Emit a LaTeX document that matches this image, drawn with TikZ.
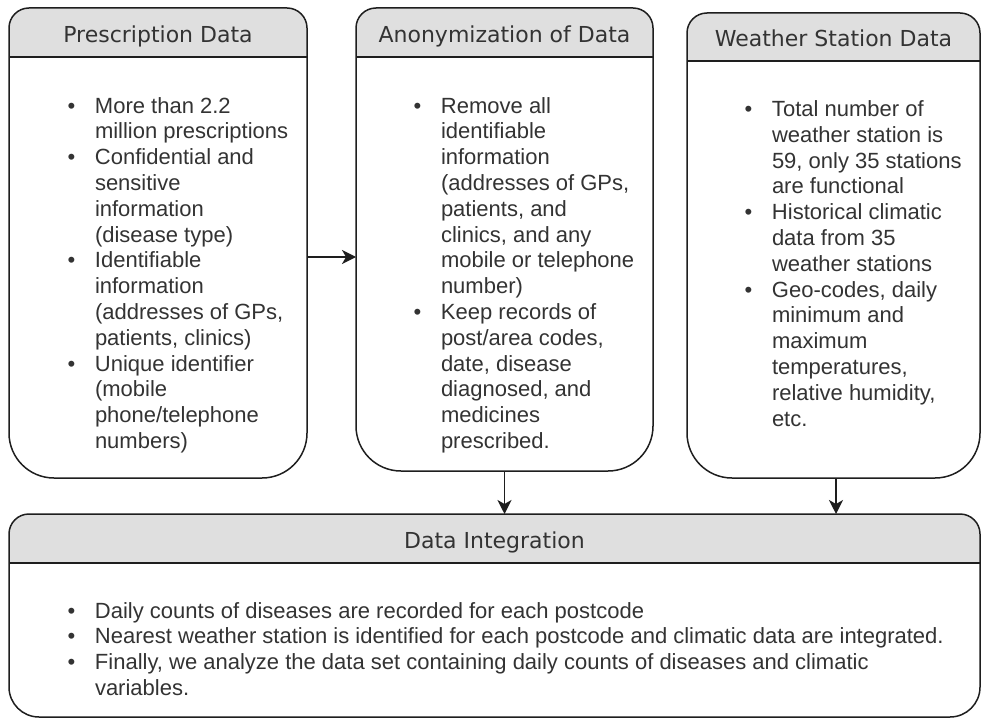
\documentclass[tikz,border=0pt]{standalone}
\usepackage{fontspec}
\setmainfont{Liberation Sans}
\newfontfamily\hdrfont{DejaVu Sans}
\usetikzlibrary{arrows.meta}

\definecolor{ink}{HTML}{1E1E1E}
\definecolor{txt}{HTML}{333333}
\definecolor{hdr}{HTML}{DFDFDF}

% Outline of a swimlane: x1, y1, x2, y2, top corner radius, bottom corner radius
\newcommand\lanepath[6]{(#1,{#2+#5}) .. controls (#1,{#2+0.4477*#5}) and ({#1+0.4477*#5},#2) .. ({#1+#5},#2)
  -- ({#3-#5},#2) .. controls ({#3-0.4477*#5},#2) and (#3,{#2+0.4477*#5}) .. (#3,{#2+#5})
  -- (#3,{#4-#6}) .. controls (#3,{#4-0.4477*#6}) and ({#3-0.4477*#6},#4) .. ({#3-#6},#4)
  -- ({#1+#6},#4) .. controls ({#1+0.4477*#6},#4) and (#1,{#4-0.4477*#6}) .. (#1,{#4-#6}) -- cycle}

% Swimlane with grey title band: name, x1, y1, x2, y2, top radius, bottom radius, band bottom, title
\newcommand\lane[9]{%
  \fill[white] \lanepath{#2}{#3}{#4}{#5}{#6}{#7};
  \begin{scope}
    \clip (#2,#3) rectangle (#4,#8);
    \fill[hdr] \lanepath{#2}{#3}{#4}{#5}{#6}{#7};
  \end{scope}
  \draw[laneline] \lanepath{#2}{#3}{#4}{#5}{#6}{#7};
  \draw[laneline] (#2,#8) -- (#4,#8);
  \node[inner sep=0pt, outer sep=0pt, minimum width={(#4-#2)*1pt}, minimum height={(#5-#3)*1pt}]
    (#1) at ({(#2+#4)/2},{(#3+#5)/2}) {};
  \node[lanetitle] (#1-title) at ({(#2+#4)/2},{#8-14.5}) {#9};
}

\newcommand\itm[1]{\strut\makebox[27.5pt][l]{\textbullet}#1}
\newcommand\cnt[1]{\strut\hspace*{27.5pt}#1}

\tikzset{
  laneline/.style={draw=ink, line width=1.5pt},
  lanetitle/.style={anchor=base, inner sep=0pt, text=txt, font=\hdrfont\fontsize{22}{26}\selectfont},
  bodytext/.style={anchor=north west, inner sep=0pt, outer sep=0pt, align=left, text=txt,
    font=\fontsize{22}{25.8}\selectfont},
  arr/.style={draw=ink, line width=1.5pt, -{Stealth[length=14pt, width=14pt, inset=4pt]}}
}

\begin{document}
\begin{tikzpicture}[x=1pt, y=-1pt]
  \fill[white] (0,0) rectangle (981,719);
  \useasboundingbox (0,0) rectangle (981,719);

  \lane{pd}{9}{8}{307}{478}{20}{45}{57}{Prescription Data}
  \lane{an}{356}{8}{653}{471}{20}{45}{57}{Anonymization of Data}
  \lane{ws}{687}{13}{980}{478}{20}{45}{61}{Weather Station Data}
  \lane{di}{9}{514}{980}{717}{20}{30}{563}{Data Integration}

  \node[bodytext] (pd-body) at (67.5,{113-18.06}) {%
    \itm{More than 2.2}\\ \cnt{million prescriptions}\\
    \itm{Confidential and}\\ \cnt{sensitive}\\ \cnt{information}\\ \cnt{(disease type)}\\
    \itm{Identifiable}\\ \cnt{information}\\ \cnt{(addresses of GPs,}\\ \cnt{patients, clinics)}\\
    \itm{Unique identifier}\\ \cnt{(mobile}\\ \cnt{phone/telephone}\\ \cnt{numbers)}};

  \node[bodytext] (an-body) at (413.5,{113-18.06}) {%
    \itm{Remove all}\\ \cnt{identifiable}\\ \cnt{information}\\ \cnt{(addresses of GPs,}\\
    \cnt{patients, and}\\ \cnt{clinics, and any}\\ \cnt{mobile or telephone}\\ \cnt{number)}\\
    \itm{Keep records of}\\ \cnt{post/area codes,}\\ \cnt{date, disease}\\ \cnt{diagnosed, and}\\
    \cnt{medicines}\\ \cnt{prescribed.}};

  \node[bodytext] (ws-body) at (744.5,{116.5-18.06}) {%
    \itm{Total number of}\\ \cnt{weather station is}\\ \cnt{59, only 35 stations}\\ \cnt{are functional}\\
    \itm{Historical climatic}\\ \cnt{data from 35}\\ \cnt{weather stations}\\
    \itm{Geo-codes, daily}\\ \cnt{minimum and}\\ \cnt{maximum}\\ \cnt{temperatures,}\\
    \cnt{relative humidity,}\\ \cnt{etc.}};

  \node[bodytext] (di-body) at (67.5,{618-18.06}) {%
    \itm{Daily counts of diseases are recorded for each postcode}\\
    \itm{Nearest weather station is identified for each postcode and climatic data are integrated.}\\
    \itm{Finally, we analyze the data set containing daily counts of diseases and climatic}\\
    \cnt{variables.}};

  % connectors
  \draw[arr] (pd.east |- 0,257) -- (an.west |- 0,257);
  \draw[arr] (an.south) -- (an.south |- di.north);
  \draw[arr] ([xshift=2.5pt]ws.south) -- ([xshift=2.5pt]ws.south |- di.north);
\end{tikzpicture}
\end{document}
